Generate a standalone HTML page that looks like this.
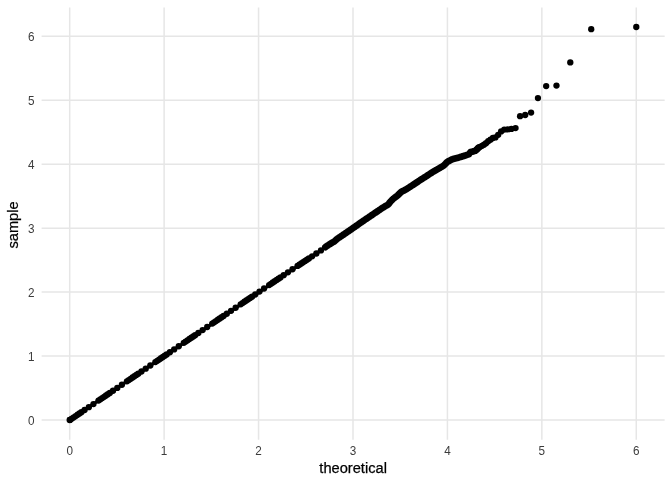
<!DOCTYPE html>
<html><head><meta charset="utf-8"><title>QQ plot</title>
<style>html,body{margin:0;padding:0;background:#fff}svg{display:block;will-change:transform}</style></head>
<body>
<svg width="672" height="480" viewBox="0 0 672 480">
<rect width="672" height="480" fill="#fff"/>
<path d="M69.70 7.4V439.7M41.6 420.00H664.67M164.13 7.4V439.7M41.6 356.06H664.67M258.56 7.4V439.7M41.6 292.12H664.67M352.99 7.4V439.7M41.6 228.18H664.67M447.42 7.4V439.7M41.6 164.24H664.67M541.85 7.4V439.7M41.6 100.30H664.67M636.28 7.4V439.7M41.6 36.36H664.67" stroke="#E6E6E6" stroke-width="1.5" fill="none"/>
<path d="M69.70 420.00L320.95 250.37" stroke="#000" stroke-width="3.2" stroke-linecap="round" fill="none"/>
<path d="M478.38 147.82 L476.67 149.62 L475.03 150.89 L473.46 151.39 L471.94 151.73 L470.47 152.08 L469.06 154.11 L467.69 154.66 L466.37 155.12 L465.09 155.57 L463.84 155.95 L462.64 156.32 L461.47 156.67 L460.33 157.02 L459.22 157.36 L458.14 157.67 L457.09 157.95 L456.06 158.23 L455.06 158.50 L454.08 158.77 L453.13 159.03 L452.20 159.35 L451.29 159.81 L450.40 160.25 L449.52 160.69 L448.67 161.12 L447.83 161.53 L447.01 162.19 L446.21 162.99 L445.42 163.78 L444.65 164.55 L443.89 165.31 L443.14 165.92 L442.41 166.36 L441.69 166.79 L440.98 167.21 L440.29 167.63 L439.60 168.04 L438.93 168.44 L438.27 168.83 L437.62 169.21 L436.98 169.58 L436.35 169.94 L435.72 170.30 L435.11 170.65 L434.51 171.00 L433.33 171.68 L432.18 172.34 L431.07 173.08 L429.98 173.79 L428.92 174.48 L427.89 175.16 L426.88 175.82 L425.90 176.46 L424.94 177.08 L424.00 177.68 L423.09 178.26 L422.19 178.84 L421.31 179.40 L420.45 179.95 L419.61 180.49 L418.79 181.04 L417.98 181.58 L417.19 182.11 L416.41 182.63 L415.65 183.13 L414.90 183.63 L414.16 184.12 L413.44 184.60 L412.73 185.07 L412.03 185.53 L411.35 185.98 L410.67 186.42 L410.01 186.86 L409.35 187.29 L408.71 187.71 L408.08 188.13 L407.45 188.54 L406.84 188.93 L406.23 189.25 L405.34 189.73 L404.47 190.19 L403.61 190.64 L402.78 191.09 L401.96 191.52 L401.15 191.99 L400.36 192.75 L399.59 193.50 L398.83 194.24 L398.09 194.96 L397.35 195.66 L396.63 196.30 L395.93 196.82 L395.23 197.33 L394.55 197.83 L393.88 198.33 L393.21 198.82 L392.56 199.45 L391.92 200.12 L391.29 200.77 L390.67 201.41 L390.06 202.04 L389.45 202.85 L388.66 203.94 L387.89 204.61 L387.13 205.08 L386.38 205.53 L385.65 205.98 L384.93 206.42 L384.22 206.85 L383.52 207.28 L382.83 207.70 L382.16 208.13 L381.50 208.58 L380.85 209.02 L380.20 209.45 L379.57 209.88 L378.95 210.30 L378.34 210.71 L377.73 211.12 L376.99 211.62 L376.26 212.11 L375.54 212.60 L374.84 213.07 L374.14 213.54 L373.46 214.00 L372.79 214.46 L372.13 214.91 L371.49 215.35 L370.85 215.78 L370.22 216.21 L369.60 216.63 L368.99 217.05 L368.39 217.46 L367.68 217.94 L366.98 218.41 L366.29 218.88 L365.62 219.34 L364.95 219.79 L364.30 220.24 L363.66 220.67 L363.02 221.10 L362.40 221.53 L361.78 221.95 L361.18 222.37 L360.48 222.86 L359.80 223.34 L359.13 223.81 L358.47 224.27 L357.82 224.73 L357.17 225.18 L356.54 225.62 L355.92 226.05 L355.31 226.48 L354.71 226.91 L354.03 227.38 L353.36 227.85 L352.70 228.30 L352.06 228.75 L351.42 229.19 L350.79 229.62 L350.18 230.04 L349.57 230.46 L348.90 230.92 L348.23 231.38 L347.58 231.83 L346.94 232.27 L346.31 232.70 L345.68 233.13 L345.07 233.55 L344.47 233.96 L343.81 234.41 L343.16 234.85 L342.52 235.28 L341.88 235.70 L341.26 236.12 L340.65 236.53 L340.05 236.94 L339.40 237.38 L338.75 237.82 L338.12 238.24 L337.50 238.66 L336.88 239.11 L336.28 239.66 L335.63 240.26 L334.99 240.85 L334.36 241.38 L333.74 241.76 L333.13 242.12 L332.53 242.48 L331.89 242.87 L331.25 243.25 L330.63 243.62 L330.02 243.99 L329.41 244.38 L328.77 244.80 L328.14 245.21 L327.52 245.61 L326.91 246.01 L326.30 246.40 L325.67 246.88 L325.41 247.09" stroke="#000" stroke-width="6.75" stroke-linecap="round" stroke-linejoin="round" fill="none"/>
<g fill="#000">
<circle cx="636.28" cy="27.00" r="3.15"/>
<circle cx="591.23" cy="29.15" r="3.15"/>
<circle cx="570.28" cy="62.40" r="3.15"/>
<circle cx="556.48" cy="85.60" r="3.15"/>
<circle cx="546.17" cy="86.10" r="3.15"/>
<circle cx="537.94" cy="98.10" r="3.15"/>
<circle cx="531.09" cy="112.60" r="3.15"/>
<circle cx="525.22" cy="115.00" r="3.15"/>
<circle cx="520.09" cy="116.20" r="3.15"/>
<circle cx="515.53" cy="128.10" r="3.15"/>
<circle cx="511.42" cy="128.90" r="3.15"/>
<circle cx="507.69" cy="129.40" r="3.15"/>
<circle cx="504.27" cy="129.60" r="3.15"/>
<circle cx="501.12" cy="131.40" r="3.15"/>
<circle cx="498.19" cy="134.80" r="3.15"/>
<circle cx="495.45" cy="137.40" r="3.15"/>
<circle cx="492.89" cy="138.00" r="3.15"/>
<circle cx="490.47" cy="139.66" r="3.15"/>
<circle cx="488.19" cy="141.26" r="3.15"/>
<circle cx="486.04" cy="143.17" r="3.15"/>
<circle cx="483.98" cy="144.65" r="3.15"/>
<circle cx="482.03" cy="145.78" r="3.15"/>
<circle cx="480.17" cy="146.78" r="3.15"/>
<circle cx="478.38" cy="147.82" r="3.15"/>
<circle cx="476.67" cy="149.62" r="3.15"/>
<circle cx="475.03" cy="150.89" r="3.15"/>
<circle cx="320.95" cy="250.44" r="3.15"/>
<circle cx="316.35" cy="253.49" r="3.15"/>
<circle cx="312.10" cy="256.30" r="3.15"/>
<circle cx="308.90" cy="258.42" r="3.15"/>
<circle cx="307.01" cy="259.67" r="3.15"/>
<circle cx="305.12" cy="260.92" r="3.15"/>
<circle cx="303.22" cy="262.18" r="3.15"/>
<circle cx="301.33" cy="263.43" r="3.15"/>
<circle cx="299.44" cy="264.68" r="3.15"/>
<circle cx="297.55" cy="265.93" r="3.15"/>
<circle cx="292.51" cy="269.27" r="3.15"/>
<circle cx="287.91" cy="272.35" r="3.15"/>
<circle cx="283.66" cy="275.22" r="3.15"/>
<circle cx="280.46" cy="277.39" r="3.15"/>
<circle cx="278.57" cy="278.67" r="3.15"/>
<circle cx="276.68" cy="279.95" r="3.15"/>
<circle cx="274.78" cy="281.23" r="3.15"/>
<circle cx="272.89" cy="282.51" r="3.15"/>
<circle cx="271.00" cy="283.80" r="3.15"/>
<circle cx="269.11" cy="285.08" r="3.15"/>
<circle cx="264.07" cy="288.49" r="3.15"/>
<circle cx="259.47" cy="291.60" r="3.15"/>
<circle cx="255.22" cy="294.48" r="3.15"/>
<circle cx="252.02" cy="296.65" r="3.15"/>
<circle cx="250.13" cy="297.93" r="3.15"/>
<circle cx="248.24" cy="299.21" r="3.15"/>
<circle cx="246.34" cy="300.49" r="3.15"/>
<circle cx="244.45" cy="301.77" r="3.15"/>
<circle cx="242.56" cy="303.05" r="3.15"/>
<circle cx="240.67" cy="304.33" r="3.15"/>
<circle cx="235.63" cy="307.75" r="3.15"/>
<circle cx="231.03" cy="310.86" r="3.15"/>
<circle cx="226.78" cy="313.74" r="3.15"/>
<circle cx="223.58" cy="315.91" r="3.15"/>
<circle cx="221.69" cy="317.19" r="3.15"/>
<circle cx="219.80" cy="318.47" r="3.15"/>
<circle cx="217.90" cy="319.75" r="3.15"/>
<circle cx="216.01" cy="321.03" r="3.15"/>
<circle cx="214.12" cy="322.31" r="3.15"/>
<circle cx="212.23" cy="323.59" r="3.15"/>
<circle cx="207.19" cy="327.00" r="3.15"/>
<circle cx="202.59" cy="330.12" r="3.15"/>
<circle cx="198.34" cy="333.00" r="3.15"/>
<circle cx="195.14" cy="335.16" r="3.15"/>
<circle cx="193.25" cy="336.44" r="3.15"/>
<circle cx="191.36" cy="337.72" r="3.15"/>
<circle cx="189.46" cy="339.01" r="3.15"/>
<circle cx="187.57" cy="340.29" r="3.15"/>
<circle cx="185.68" cy="341.57" r="3.15"/>
<circle cx="183.79" cy="342.85" r="3.15"/>
<circle cx="178.75" cy="346.26" r="3.15"/>
<circle cx="174.15" cy="349.38" r="3.15"/>
<circle cx="169.90" cy="352.25" r="3.15"/>
<circle cx="166.70" cy="354.42" r="3.15"/>
<circle cx="164.81" cy="355.70" r="3.15"/>
<circle cx="162.92" cy="356.98" r="3.15"/>
<circle cx="161.02" cy="358.26" r="3.15"/>
<circle cx="159.13" cy="359.54" r="3.15"/>
<circle cx="157.24" cy="360.82" r="3.15"/>
<circle cx="155.35" cy="362.11" r="3.15"/>
<circle cx="150.31" cy="365.52" r="3.15"/>
<circle cx="145.71" cy="368.63" r="3.15"/>
<circle cx="141.46" cy="371.51" r="3.15"/>
<circle cx="138.26" cy="373.68" r="3.15"/>
<circle cx="136.37" cy="374.96" r="3.15"/>
<circle cx="134.48" cy="376.24" r="3.15"/>
<circle cx="132.58" cy="377.52" r="3.15"/>
<circle cx="130.69" cy="378.80" r="3.15"/>
<circle cx="128.80" cy="380.08" r="3.15"/>
<circle cx="126.91" cy="381.36" r="3.15"/>
<circle cx="121.87" cy="384.77" r="3.15"/>
<circle cx="117.27" cy="387.89" r="3.15"/>
<circle cx="113.02" cy="390.77" r="3.15"/>
<circle cx="109.82" cy="392.93" r="3.15"/>
<circle cx="107.93" cy="394.22" r="3.15"/>
<circle cx="106.04" cy="395.50" r="3.15"/>
<circle cx="104.14" cy="396.78" r="3.15"/>
<circle cx="102.25" cy="398.06" r="3.15"/>
<circle cx="100.36" cy="399.34" r="3.15"/>
<circle cx="98.47" cy="400.62" r="3.15"/>
<circle cx="93.43" cy="404.03" r="3.15"/>
<circle cx="88.83" cy="407.15" r="3.15"/>
<circle cx="84.58" cy="410.02" r="3.15"/>
<circle cx="81.38" cy="412.19" r="3.15"/>
<circle cx="79.49" cy="413.47" r="3.15"/>
<circle cx="77.60" cy="414.75" r="3.15"/>
<circle cx="75.70" cy="416.03" r="3.15"/>
<circle cx="73.81" cy="417.31" r="3.15"/>
<circle cx="71.92" cy="418.60" r="3.15"/>
<circle cx="70.03" cy="419.88" r="3.15"/>
<circle cx="69.70" cy="420.00" r="3.15"/>
</g>
<g font-family="Liberation Sans, sans-serif" font-size="11.73" fill="#3C3C3C">
<text transform="translate(69.70 455.0) scale(1 1.06)" text-anchor="middle">0</text>
<text transform="translate(34.45 425.05) scale(1 1.06)" text-anchor="end">0</text>
<text transform="translate(164.13 455.0) scale(1 1.06)" text-anchor="middle">1</text>
<text transform="translate(34.45 361.11) scale(1 1.06)" text-anchor="end">1</text>
<text transform="translate(258.56 455.0) scale(1 1.06)" text-anchor="middle">2</text>
<text transform="translate(34.45 297.17) scale(1 1.06)" text-anchor="end">2</text>
<text transform="translate(352.99 455.0) scale(1 1.06)" text-anchor="middle">3</text>
<text transform="translate(34.45 233.23) scale(1 1.06)" text-anchor="end">3</text>
<text transform="translate(447.42 455.0) scale(1 1.06)" text-anchor="middle">4</text>
<text transform="translate(34.45 169.29) scale(1 1.06)" text-anchor="end">4</text>
<text transform="translate(541.85 455.0) scale(1 1.06)" text-anchor="middle">5</text>
<text transform="translate(34.45 105.35) scale(1 1.06)" text-anchor="end">5</text>
<text transform="translate(636.28 455.0) scale(1 1.06)" text-anchor="middle">6</text>
<text transform="translate(34.45 41.41) scale(1 1.06)" text-anchor="end">6</text>
</g>
<g font-family="Liberation Sans, sans-serif" font-size="14.67" fill="#000" stroke="#000" stroke-width="0.25">
<text x="353.13" y="472.5" text-anchor="middle">theoretical</text>
<text transform="translate(18.1 224.95) rotate(-90)" text-anchor="middle">sample</text>
</g>
</svg>
</body></html>
